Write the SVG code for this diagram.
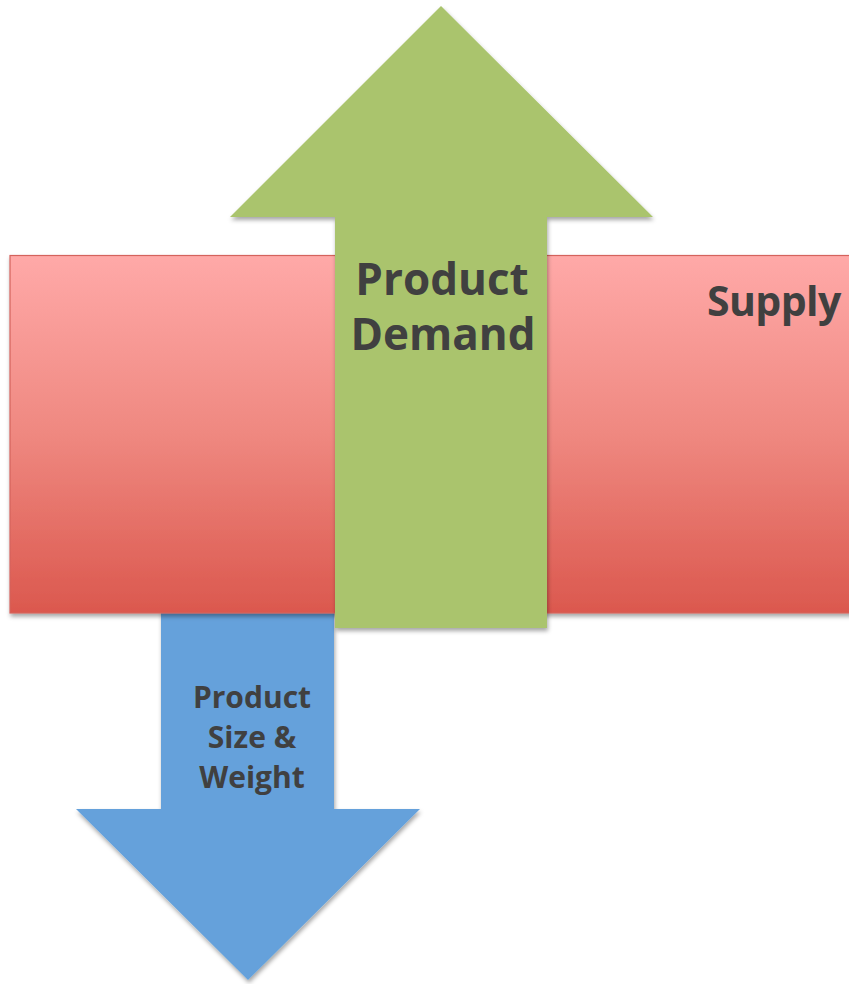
<svg xmlns="http://www.w3.org/2000/svg" width="849" height="984" viewBox="0 0 849 984">
  <defs>
    <linearGradient id="redGrad" x1="0" y1="0" x2="0" y2="1">
      <stop offset="0" stop-color="#FFA9A8"/>
      <stop offset="0.5" stop-color="#EF8880"/>
      <stop offset="1" stop-color="#DB584E"/>
    </linearGradient>
    <filter id="shadow" x="-10%" y="-10%" width="120%" height="120%">
      <feDropShadow dx="1" dy="3" stdDeviation="2" flood-color="#000" flood-opacity="0.35"/>
    </filter>
  </defs>
  <style>
    .lbl { font-family: "Open Sans", "Liberation Sans", sans-serif; font-weight: bold; fill: #404040; }
    .big { font-size: 44px; }
    .small { font-size: 30px; }
  </style>
  <rect width="849" height="984" fill="#FFFFFF"/>
  <g id="connectors"/>
  <g id="size-weight">
    <polygon points="161,600 334,600 334,809 420,809 248,980 76,809 161,809" fill="#65A1DB" filter="url(#shadow)"/>
    <text class="lbl small" text-anchor="middle" x="252" y="708">Product</text>
    <text class="lbl small" text-anchor="middle" x="252" y="748">Size &amp;</text>
    <text class="lbl small" text-anchor="middle" x="252" y="788">Weight</text>
  </g>
  <g id="supply">
    <rect x="10" y="255.5" width="860" height="357.5" fill="url(#redGrad)" stroke="#D4635D" stroke-width="1.2" filter="url(#shadow)"/>
    <text class="lbl" x="707" y="316" font-size="41" letter-spacing="-0.6">Supply</text>
  </g>
  <g id="product-demand">
    <polygon points="441,6 653,217 547,217 547,628 335,628 335,217 230,217" fill="#AAC46D" filter="url(#shadow)"/>
    <text class="lbl big" text-anchor="middle" x="442" y="295">Product</text>
    <text class="lbl big" text-anchor="middle" x="443" y="350">Demand</text>
  </g>
</svg>
